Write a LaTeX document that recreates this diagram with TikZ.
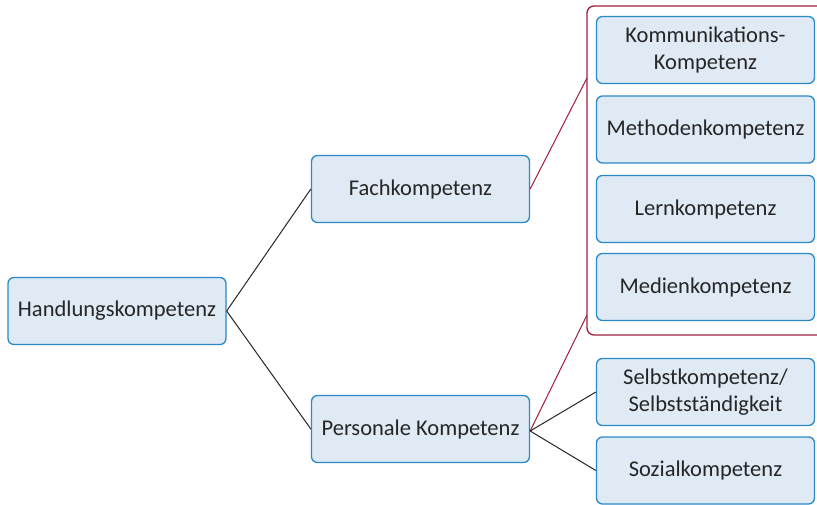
\documentclass[tikz,border=0pt]{standalone}
\usepackage{fontspec}
\setmainfont{Carlito}
\definecolor{boxfill}{HTML}{DFEAF5}
\definecolor{boxdraw}{HTML}{2A8AC8}
\definecolor{grpred}{HTML}{9C1E3C}
\begin{document}
\begin{tikzpicture}[x=1pt,y=-1pt,
  kbox/.style={draw=boxdraw,fill=boxfill,line width=1.3pt,rounded corners=6pt,
    minimum width=218pt,minimum height=67pt,align=center,inner sep=2pt,
    font=\fontsize{22.5}{27}\selectfont,text=black!85},
  link/.style={draw=black!85,line width=1pt},
  redlink/.style={draw=grpred,line width=1pt}]
\useasboundingbox (0,0) rectangle (817,504);
\draw[grpred,line width=1.3pt,rounded corners=7pt] (587,6) rectangle (830,335);
\node[kbox] (hk) at (117,311) {Handlungskompetenz};
\node[kbox] (fk) at (420.5,189) {Fachkompetenz};
\node[kbox] (pk) at (420.5,429) {Personale Kompetenz};
\node[kbox] (kom) at (705.5,50) {Kommunikations-\\Kompetenz};
\node[kbox] (met) at (705.5,129.5) {Methodenkompetenz};
\node[kbox] (ler) at (705.5,209) {Lernkompetenz};
\node[kbox] (med) at (705.5,287) {Medienkompetenz};
\node[kbox] (sel) at (705.5,392) {Selbstkompetenz/\\Selbstständigkeit};
\node[kbox] (soz) at (705.5,470.5) {Sozialkompetenz};
\coordinate (gtop) at (587,78);
\coordinate (gbot) at (587,315);
\coordinate (pkr) at ([yshift=-2pt]pk.east);
\draw[link] (hk.east) -- (fk.west);
\draw[link] (hk.east) -- (pk.west);
\draw[redlink] (fk.east) -- (gtop);
\draw[redlink] (pkr) -- (gbot);
\draw[link] (pkr) -- (sel.west);
\draw[link] (pkr) -- (soz.west);
\end{tikzpicture}
\end{document}
